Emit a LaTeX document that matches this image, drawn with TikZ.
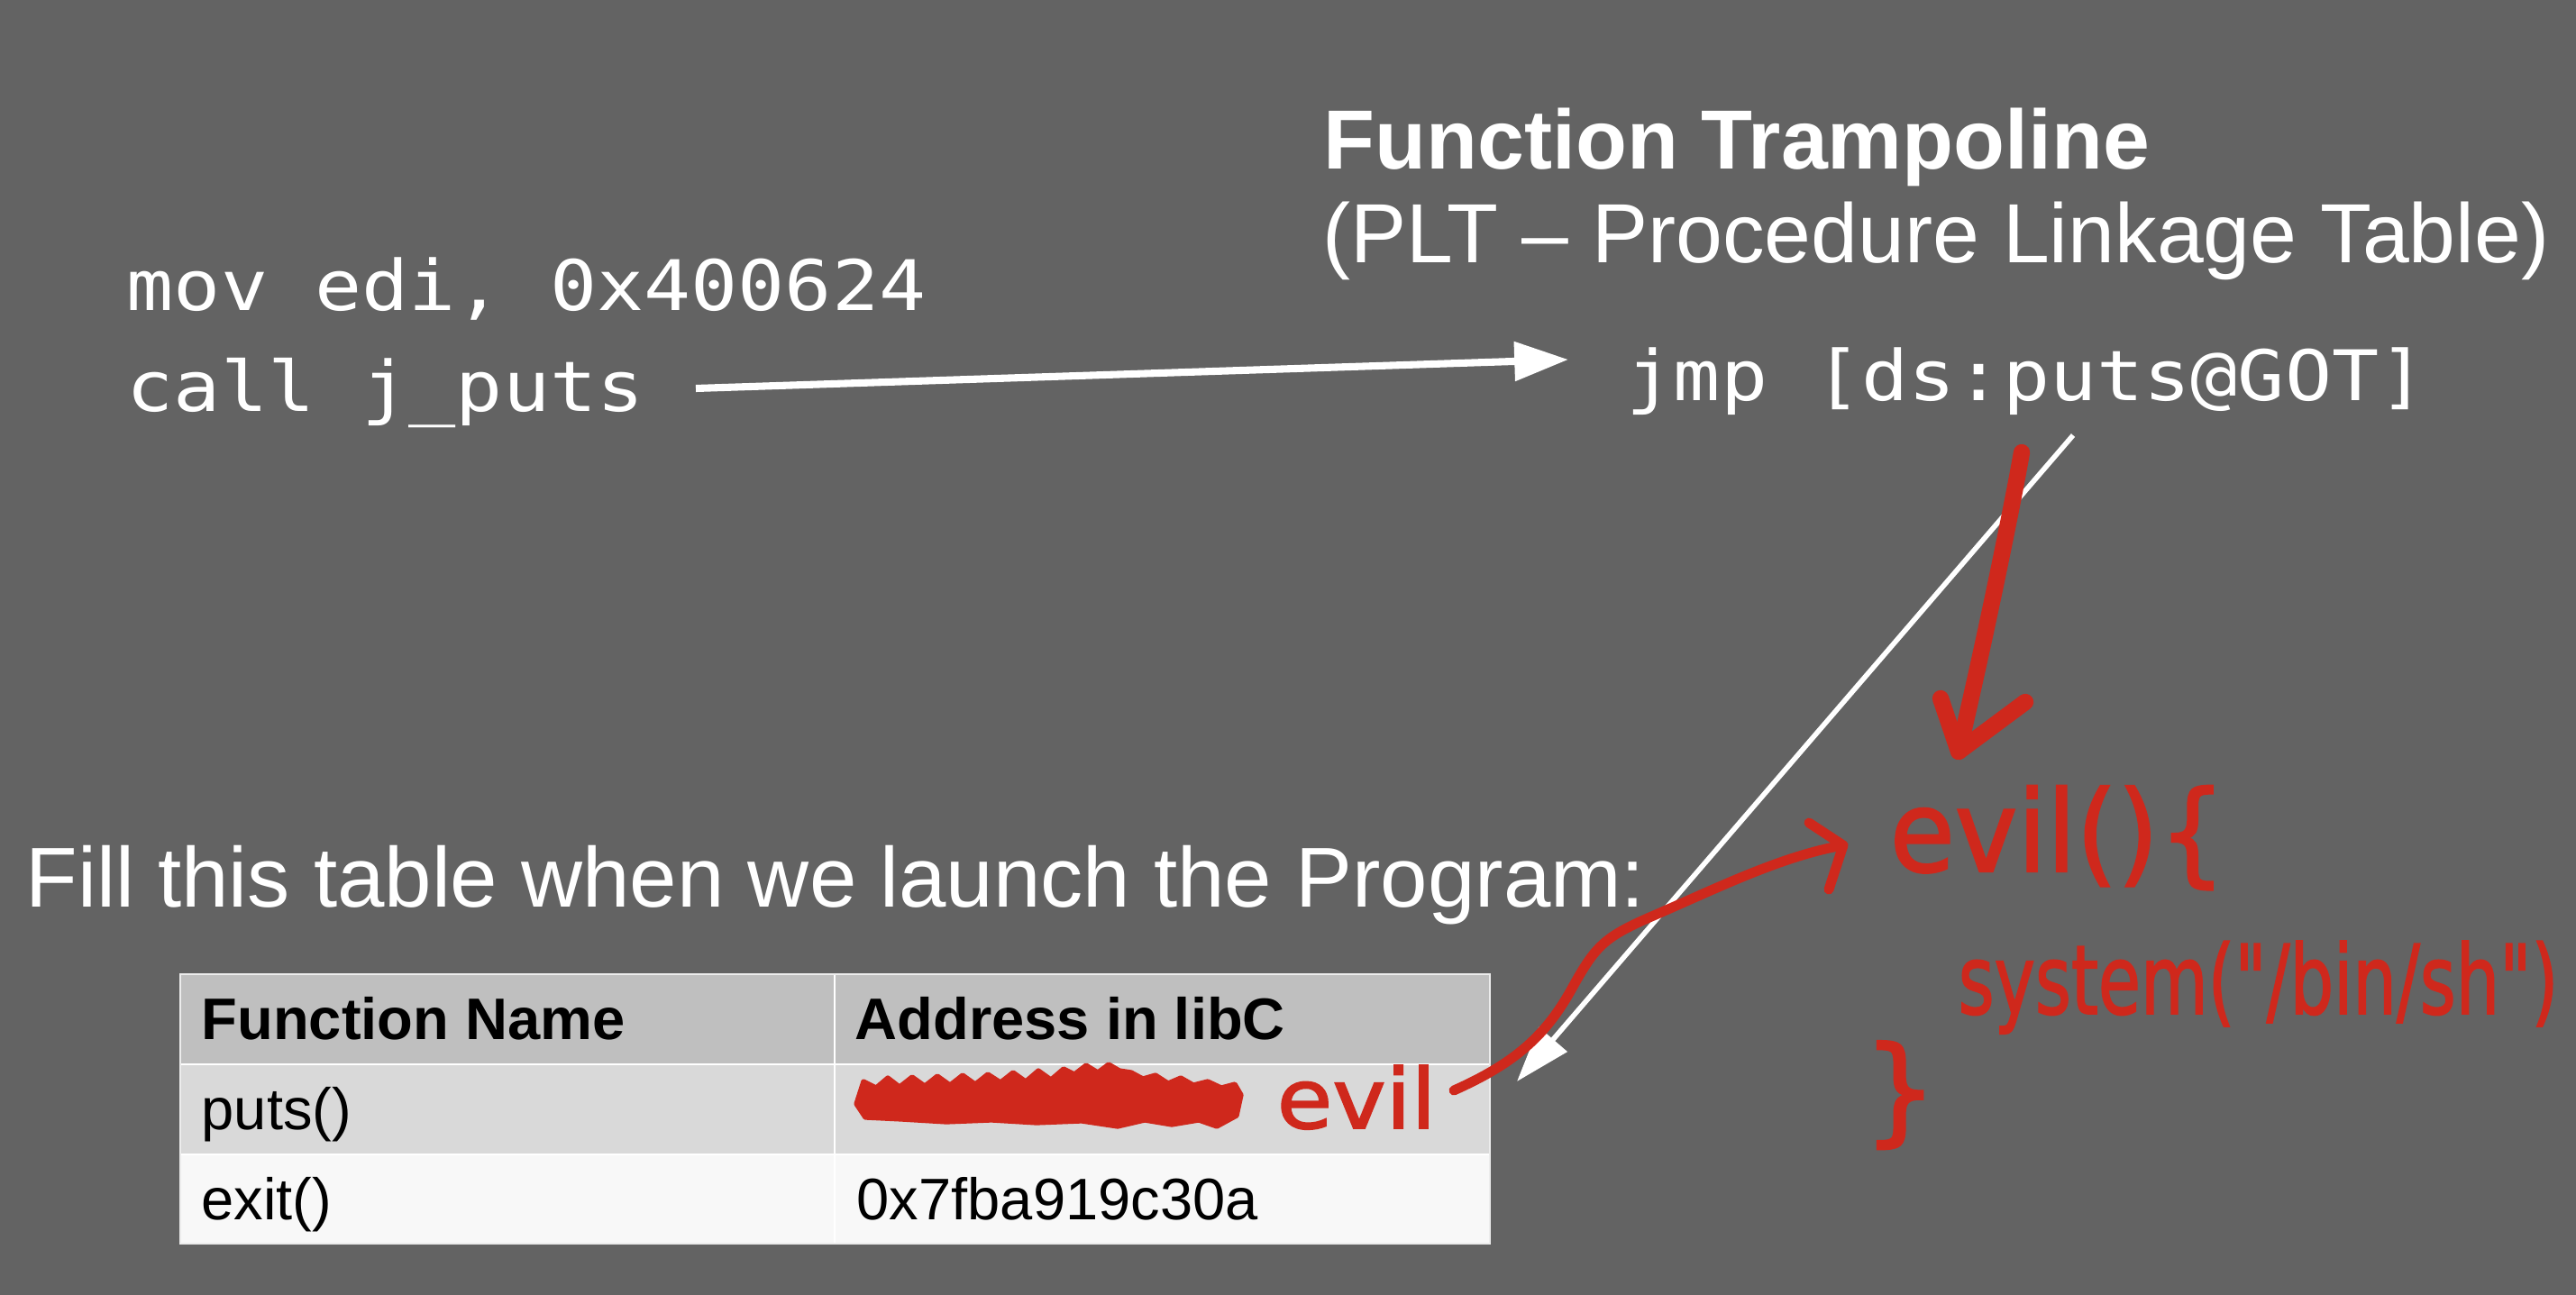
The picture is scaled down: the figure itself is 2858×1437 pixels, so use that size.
\documentclass[tikz,border=0pt]{standalone}
\usepackage{fontspec}
\usepackage{graphicx}
\usetikzlibrary{arrows.meta}
\setmainfont{Liberation Sans}
\newfontfamily\codefont{DejaVu Sans Mono}[FakeStretch=1.12]
\newfontfamily\handfont{DejaVu Sans}[FakeBold=1.8]
\definecolor{bg}{RGB}{99,99,99}
\definecolor{hdr}{RGB}{191,191,191}
\definecolor{rowa}{RGB}{217,217,217}
\definecolor{rowb}{RGB}{248,248,248}
\definecolor{gridc}{RGB}{236,236,236}
\definecolor{pen}{RGB}{207,40,28}
\begin{document}
\begin{tikzpicture}[x=0.01cm,y=-0.01cm,
  lbl/.style={inner sep=0pt, anchor=base west, text=white},
  titletxt/.style={lbl, font=\fontsize{26.5}{30}\selectfont\bfseries},
  subtxt/.style={lbl, font=\fontsize{26.5}{30}\selectfont},
  code/.style={lbl, font=\codefont\fontsize{22}{26}\selectfont},
  cell/.style={inner sep=0pt, anchor=base west, text=black, font=\fontsize{18.5}{22}\selectfont},
  hcell/.style={cell, font=\fontsize{18.5}{22}\selectfont\bfseries},
  hand/.style={inner sep=0pt, anchor=base west, text=pen, font=\handfont},
  callarrow/.style={draw=white, line width=2.3pt, -{Triangle[length=17pt,width=12pt]}},
  gotarrow/.style={draw=white, line width=1.6pt, -{Triangle[length=17.5pt,width=11.5pt]}},
  penline/.style={draw=pen, line width=3.1pt, line cap=round, line join=round},
  penthick/.style={draw=pen, line width=5.2pt, line cap=round, line join=round},
  sep/.style={draw=white, line width=0.8pt},
]
\useasboundingbox (0,0) rectangle (2858,1437);
\fill[bg] (0,0) rectangle (2858,1437);

% headings and code
\node[titletxt] (title) at (1468,188) {Function Trampoline};
\node[subtxt] (plt) at (1467,292) {(PLT – Procedure Linkage Table)};
\node[code] (mov) at (140,345) {mov edi, 0x400624};
\node[code] (call) at (140,457) {call j\_puts};
\node[code] (jmp) at (1804,445) {jmp [ds:puts@GOT]};
\node[lbl, font=\fontsize{26.8}{30}\selectfont] (filltxt) at (28,1006) {Fill this table when we launch the Program:};

% table
\fill[hdr] (200,1081) rectangle (1653,1181);
\fill[rowa] (200,1181) rectangle (1653,1281);
\fill[rowb] (200,1281) rectangle (1653,1380);
\draw[sep] (200,1181) -- (1653,1181);
\draw[sep] (200,1281) -- (1653,1281);
\draw[sep] (926,1081) -- (926,1380);
\draw[draw=gridc, line width=0.8pt] (200,1081) rectangle (1653,1380);
\node[hcell] (h1) at (223,1153) {Function Name};
\node[hcell] (h2) at (948,1153) {Address in libC};
\node[cell] (c11) at (223,1253) {puts()};
\node[cell] (c21) at (223,1353) {exit()};
\node[cell] (c22) at (950,1353) {0x7fba919c30a};

% call arrow
\coordinate (cs) at (772,431);
\coordinate (ct) at (1740,399);
\draw[callarrow] (cs) -- (ct);

% GOT arrow
\coordinate (gs) at (2300,483);
\coordinate (gt) at (1683,1200);
\draw[gotarrow] (gs) -- (gt);

% red scribble over old address
\filldraw[fill=pen, draw=pen, line width=1.5pt, line join=round]
 (950,1225) -- (958,1200) -- (972,1207) -- (985,1196) -- (998,1206) -- (1012,1195)
 -- (1026,1205) -- (1040,1194) -- (1054,1204) -- (1068,1193) -- (1082,1203) -- (1096,1192)
 -- (1110,1201) -- (1124,1190) -- (1138,1200) -- (1152,1188) -- (1166,1198) -- (1180,1186)
 -- (1192,1192) -- (1205,1182) -- (1218,1190) -- (1230,1181) -- (1242,1188) -- (1255,1190)
 -- (1268,1197) -- (1282,1193) -- (1296,1202) -- (1310,1196) -- (1324,1204) -- (1340,1200)
 -- (1355,1207) -- (1370,1203) -- (1377,1215) -- (1372,1238) -- (1350,1250) -- (1330,1243)
 -- (1300,1248) -- (1270,1243) -- (1240,1250) -- (1200,1244) -- (1150,1246) -- (1100,1243)
 -- (1050,1245) -- (1000,1242) -- (960,1240) -- cycle;

% handwriting
\node[hand] (evilA) at (1416,1252) {\fontsize{22.8}{26}\selectfont\scalebox{1.25}[1.15]{evil}};
\node[hand] (evilB) at (2096,967) {\fontsize{28.5}{30}\selectfont\scalebox{1.17}[1.25]{evil()\{}};
\node[hand] (sys) at (2172,1125) {\fontsize{24.2}{28}\selectfont\scalebox{0.9}[1.25]{system("/bin/sh")}};
\node[hand] (brace) at (2066,1254) {\fontsize{37}{40}\selectfont\}};

% red down arrow
\coordinate (ds) at (2243,502);
\coordinate (dt) at (2173,834);
\draw[penthick] (ds) .. controls (2232,565) and (2200,720) .. (dt);
\draw[penthick] (2153,775) -- (dt) -- (2247,779);

% red curved arrow
\coordinate (es) at (1613,1210);
\coordinate (et) at (2045,938);
\draw[penline] (es) .. controls (1680,1180) and (1715,1150) .. (1745,1095)
  .. controls (1770,1050) and (1780,1040) .. (1830,1018)
  .. controls (1900,988) and (1975,950) .. (et);
\draw[penline] (2007,913) -- (et) -- (2029,987);
\end{tikzpicture}
\end{document}
